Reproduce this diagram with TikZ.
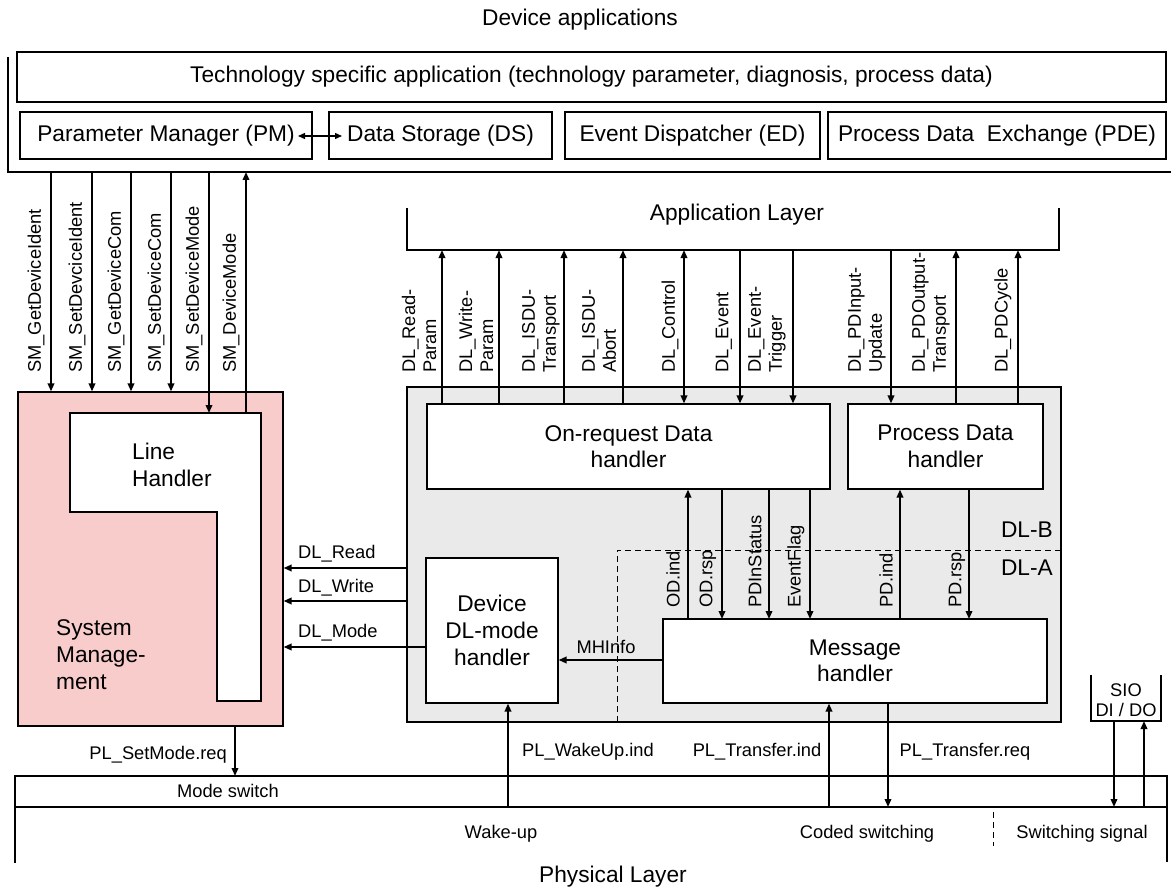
\documentclass[tikz,border=0pt]{standalone}
\usepackage{fontspec}
\setmainfont{Liberation Sans}
\usetikzlibrary{arrows.meta}
\newcommand\szL{\fontsize{22.7}{26.5}\selectfont}
\newcommand\szS{\fontsize{18.3}{21}\selectfont}
\definecolor{smpink}{HTML}{F9CCCC}
\definecolor{dlgray}{HTML}{EAEAEA}
\begin{document}
\begin{tikzpicture}[x=1pt,y=-1pt,
  box/.style={draw=black, line width=1.1pt, fill=white, inner sep=0pt, align=center, font=\szL},
  ttl/.style={inner sep=0pt, font=\szL},
  lbl/.style={inner sep=0pt, font=\szS},
  vlbl/.style={lbl, rotate=90, anchor=west, align=left},
  frame/.style={draw=black, line width=1.1pt},
  arr/.style={line width=1.8pt, -{Triangle[length=8pt,width=6.5pt]}},
  darr/.style={line width=1.8pt, {Triangle[length=8pt,width=6.5pt]}-{Triangle[length=8pt,width=6.5pt]}},
  dsh/.style={line width=1pt, dash pattern=on 6pt off 4pt}
]
\useasboundingbox (0,0) rectangle (1171,888);

% ---------- Device applications ----------
\node[ttl] (devtitle) at (580,20) {Device applications};
\draw[frame] (8,57) -- (8,172) -- (1171,172);
\node[box, minimum width=1149pt, minimum height=50pt] (tech) at (591.5,77)
  {Technology specific application (technology parameter, diagnosis, process data)};
\node[box, minimum width=292pt, minimum height=47pt] (pm) at (166,135.5) {Parameter Manager (PM)};
\node[box, minimum width=223pt, minimum height=47pt] (ds) at (440.5,135.5) {Data Storage (DS)};
\node[box, minimum width=255pt, minimum height=47pt] (ed) at (692.5,135.5) {Event Dispatcher (ED)};
\node[box, minimum width=338pt, minimum height=47pt] (pde) at (997,135.5) {Process Data\ \ Exchange (PDE)};
\coordinate (pmds1) at (298,136);
\coordinate (pmds2) at (342,136);
\draw[line width=1.4pt, {Triangle[length=7pt,width=6pt]}-{Triangle[length=7pt,width=6pt]}] (pmds1) -- (pmds2);

% ---------- System management ----------
\node[draw=black, line width=1.1pt, fill=smpink, minimum width=265pt, minimum height=334pt, inner sep=0pt] (sm) at (150.5,559) {};
\draw[frame, fill=white] (70,413) -- (261,413) -- (261,701) -- (217,701) -- (217,512) -- (70,512) -- cycle;
\coordinate (lh) at (70,413);
\node[ttl, anchor=west, align=left] (lhtext) at (132,465) {Line\\Handler};
\node[ttl, anchor=west, align=left, font=\fontsize{22.7}{27}\selectfont] (smtext) at (56,655) {System\\Manage-\\ment};

\coordinate (s1) at (51,172);
\coordinate (s2) at (92,172);
\coordinate (s3) at (131,172);
\coordinate (s4) at (171,172);
\coordinate (s5) at (209,172);
\coordinate (s6) at (246,172);
\draw[arr] (s1) -- (s1 |- sm.north);
\draw[arr] (s2) -- (s2 |- sm.north);
\draw[arr] (s3) -- (s3 |- sm.north);
\draw[arr] (s4) -- (s4 |- sm.north);
\draw[arr] (s5) -- (s5 |- lh);
\draw[arr] (s6 |- lh) -- (s6);
\node[vlbl] (l1) at (36,373) {SM\_GetDeviceIdent};
\node[vlbl] (l2) at (77,373) {SM\_SetDevciceIdent};
\node[vlbl] (l3) at (116,373) {SM\_GetDeviceCom};
\node[vlbl] (l4) at (156,373) {SM\_SetDeviceCom};
\node[vlbl] (l5) at (194,373) {SM\_SetDeviceMode};
\node[vlbl] (l6) at (231,373) {SM\_DeviceMode};

% ---------- Data link layer ----------
\node[draw=black, line width=1.1pt, fill=dlgray, minimum width=654pt, minimum height=335pt, inner sep=0pt] (dl) at (734,554.5) {};
\draw[dsh] (617,722) -- (617,550) -- (1061,550);
\node[ttl, anchor=east] (dlb) at (1053,530) {DL-B};
\node[ttl, anchor=east] (dla) at (1053,568) {DL-A};
\node[box, minimum width=403pt, minimum height=85pt] (odh) at (628.5,446.5) {On-request Data\\handler};
\node[box, minimum width=195pt, minimum height=85pt] (pdh) at (945.5,446.5) {Process Data\\handler};
\node[box, minimum width=132pt, minimum height=145pt, font=\fontsize{22.7}{27}\selectfont] (dlm) at (492,630.5) {Device\\DL-mode\\handler};
\node[box, minimum width=384pt, minimum height=84pt] (mh) at (855,661) {Message\\handler};

% Application layer
\draw[frame] (407,208) -- (407,250) -- (1059,250) -- (1059,208);
\node[ttl] (applayer) at (737,215) {Application Layer};
\coordinate (a1) at (442,250);
\coordinate (a2) at (499,250);
\coordinate (a3) at (564,250);
\coordinate (a4) at (623,250);
\coordinate (a5) at (684,250);
\coordinate (a6) at (740,250);
\coordinate (a7) at (793,250);
\coordinate (a8) at (891,250);
\coordinate (a9) at (956,250);
\coordinate (a10) at (1018,250);
\draw[arr] (a1 |- odh.north) -- (a1);
\draw[arr] (a2 |- odh.north) -- (a2);
\draw[arr] (a3 |- odh.north) -- (a3);
\draw[arr] (a4 |- odh.north) -- (a4);
\draw[darr] (a5 |- odh.north) -- (a5);
\draw[arr] (a6) -- (a6 |- odh.north);
\draw[arr] (a7) -- (a7 |- odh.north);
\draw[arr] (a8) -- (a8 |- pdh.north);
\draw[arr] (a9 |- pdh.north) -- (a9);
\draw[arr] (a10 |- pdh.north) -- (a10);
\node[vlbl] (t1) at (419,373) {DL\_Read-\\Param};
\node[vlbl] (t2) at (476,373) {DL\_Write-\\Param};
\node[vlbl] (t3) at (541,373) {DL\_ISDU-\\Transport};
\node[vlbl] (t4) at (599,373) {DL\_ISDU-\\Abort};
\node[vlbl] (t5) at (670,373) {DL\_Control};
\node[vlbl] (t6) at (724,373) {DL\_Event};
\node[vlbl] (t7) at (767,373) {DL\_Event-\\Trigger};
\node[vlbl] (t8) at (867,373) {DL\_PDInput-\\Update};
\node[vlbl] (t9) at (931,373) {DL\_PDOutput-\\Transport};
\node[vlbl] (t10) at (1003,373) {DL\_PDCycle};

% inner connections
\coordinate (b1) at (688,619);
\coordinate (b2) at (722,619);
\coordinate (b3) at (769,619);
\coordinate (b4) at (810,619);
\coordinate (b5) at (900,619);
\coordinate (b6) at (969,619);
\draw[arr] (b1) -- (b1 |- odh.south);
\draw[arr] (b2 |- odh.south) -- (b2);
\draw[arr] (b3 |- odh.south) -- (b3);
\draw[arr] (b4 |- odh.south) -- (b4);
\draw[arr] (b5) -- (b5 |- pdh.south);
\draw[arr] (b6 |- pdh.south) -- (b6);
\node[vlbl] (u1) at (673,608) {OD.ind};
\node[vlbl] (u2) at (708,608) {OD.rsp};
\node[vlbl] (u3) at (755,608) {PDInStatus};
\node[vlbl] (u4) at (796,608) {EventFlag};
\node[vlbl] (u5) at (886,608) {PD.ind};
\node[vlbl] (u6) at (957,608) {PD.rsp};

\coordinate (mhi) at (0,660);
\draw[arr] (mh.west |- mhi) -- (dlm.east |- mhi);
\node[lbl] (mhinfo) at (606,647) {MHInfo};

% DL -> SM
\coordinate (r1) at (0,568);
\coordinate (r2) at (0,601);
\coordinate (r3) at (0,647);
\draw[arr] (dl.west |- r1) -- (sm.east |- r1);
\draw[arr] (dl.west |- r2) -- (sm.east |- r2);
\draw[arr] (dlm.west |- r3) -- (sm.east |- r3);
\node[lbl, anchor=west] (dlread) at (298,554) {DL\_Read};
\node[lbl, anchor=west] (dlwrite) at (298,588) {DL\_Write};
\node[lbl, anchor=west] (dlmode) at (298,633) {DL\_Mode};

% ---------- Physical layer ----------
\draw[frame] (15,863) -- (15,776) -- (1167,776) -- (1167,862);
\draw[frame] (15,807) -- (1167,807);
\draw[dsh] (993,812) -- (993,846);
\node[lbl] (modesw) at (228,791) {Mode switch};
\node[lbl] (wakeup) at (501,834) {Wake-up};
\node[lbl] (coded) at (867,834) {Coded switching};
\node[lbl] (swsig) at (1082,834) {Switching signal};
\node[ttl] (phys) at (613,877) {Physical Layer};

% SIO box
\draw[frame] (1091,675) -- (1091,721) -- (1161,721) -- (1161,675);
\coordinate (siob) at (0,721);
\node[lbl, align=center, font=\fontsize{18.3}{20}\selectfont] (sio) at (1126,700) {SIO\\DI / DO};

\coordinate (p1) at (235,776);
\coordinate (p2) at (508,807);
\coordinate (p3) at (829,807);
\coordinate (p4) at (888,807);
\coordinate (p5) at (1114,807);
\coordinate (p6) at (1144,807);
\draw[arr] (p1 |- sm.south) -- (p1);
\draw[arr] (p2) -- (p2 |- dlm.south);
\draw[arr] (p3) -- (p3 |- mh.south);
\draw[arr] (p4 |- mh.south) -- (p4);
\draw[arr] (p5 |- siob) -- (p5);
\draw[arr] (p6) -- (p6 |- siob);
\node[lbl, anchor=east] (plset) at (227,755) {PL\_SetMode.req};
\node[lbl] (plwake) at (588,752) {PL\_WakeUp.ind};
\node[lbl] (pltind) at (757,752) {PL\_Transfer.ind};
\node[lbl] (pltreq) at (965,752) {PL\_Transfer.req};
\end{tikzpicture}
\end{document}
